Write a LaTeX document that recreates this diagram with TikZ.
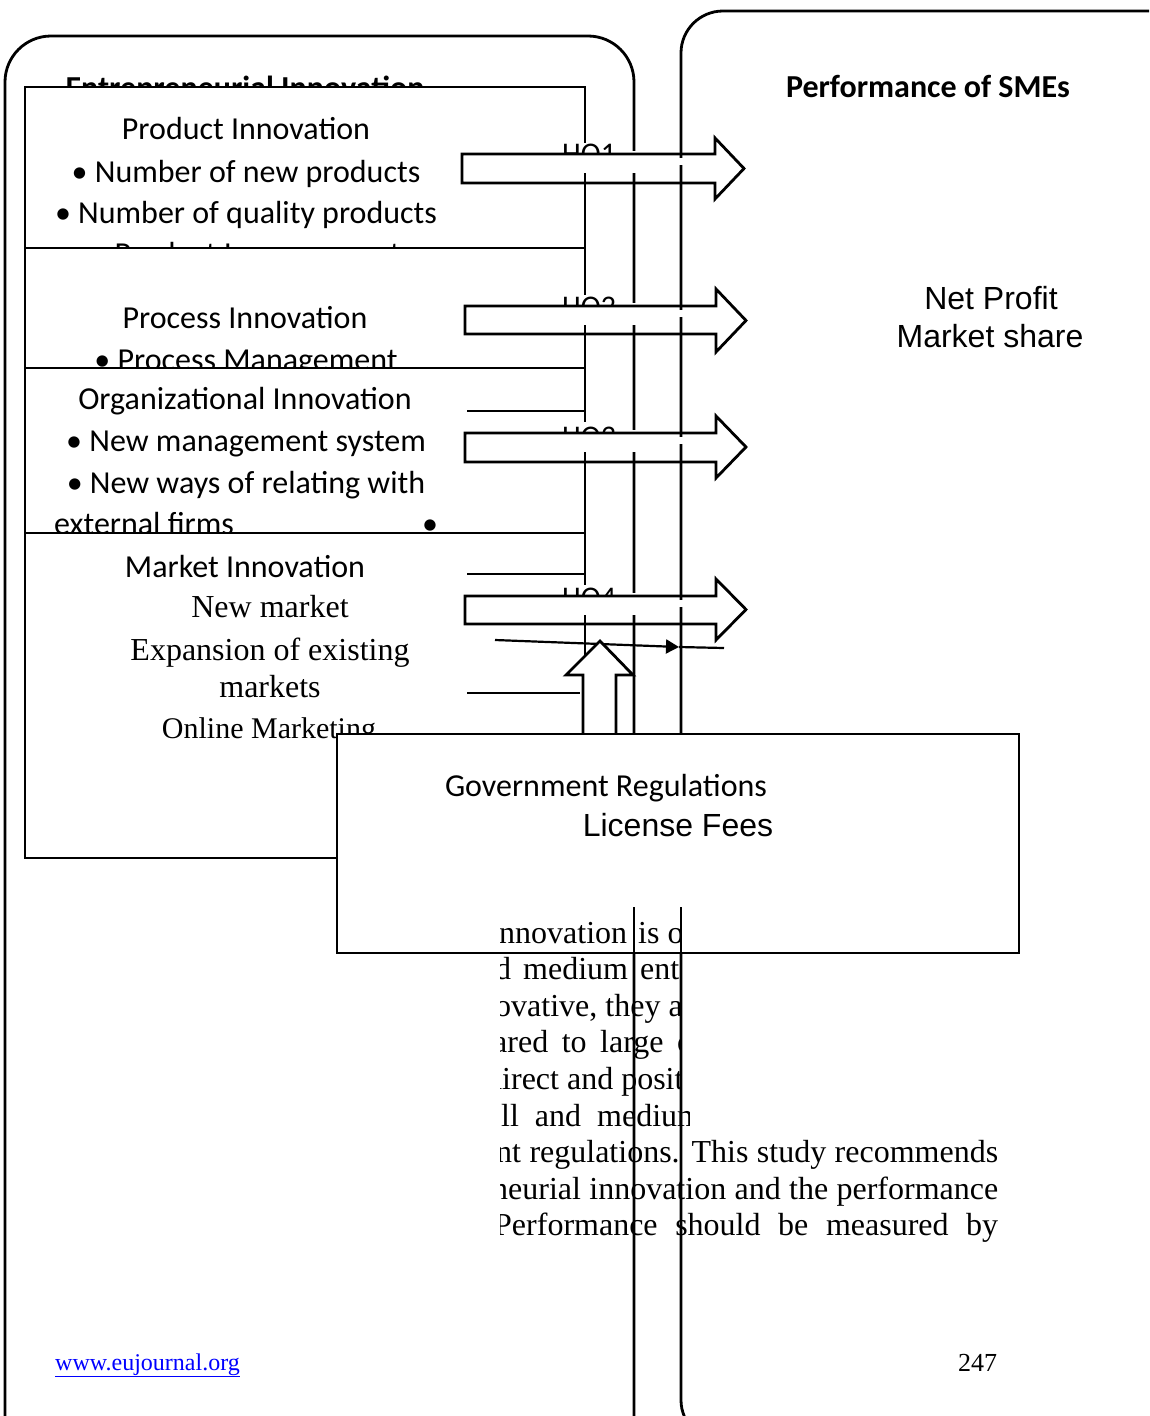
\documentclass[tikz,border=0pt]{standalone}
\usepackage{fontspec}
\setmainfont{Liberation Serif}
\newfontfamily\calibrifont{Carlito}
\newfontfamily\arialfont{Liberation Sans}
\usetikzlibrary{arrows.meta}
\newcommand\fsz[1]{\fontsize{#1pt}{#1pt}\selectfont}

\tikzset{
  frameline/.style={line width=2.8pt},
  thinline/.style={line width=2.5pt},
  box/.style={draw, line width=2.8pt, fill=white, inner sep=0pt, outer sep=0pt, anchor=north west},
  cal/.style={font=\calibrifont\fsz{32}, inner sep=0pt, anchor=base},
  calb/.style={font=\calibrifont\bfseries\fsz{32}, inner sep=0pt, anchor=base},
  hotext/.style={font=\calibrifont\fsz{30}, inner sep=0pt, anchor=base west},
  arial/.style={font=\arialfont\fsz{32}, inner sep=0pt, anchor=base},
  tnr/.style={font=\fsz{32}, inner sep=0pt, anchor=base},
  body/.style={font=\fsz{32}, inner sep=0pt, anchor=base west},
  foot/.style={font=\fsz{24}, inner sep=0pt, anchor=base west},
}

% hypothesis arrow with its half-hidden label
% #1 label, #2 body top, #3 body bottom, #4 head top, #5 head bottom,
% #6 left end, #7 head base, #8 tip, #9 label baseline
\newcommand\hypoarrow[9]{%
  \fill[white] (548,#2-11) rectangle (612,#2+19);
  \fill[white] (612,#2-3) rectangle (652,#2+19);
  \fill[white] (678,#2+4) rectangle (684,#2+11);
  \begin{scope}
    \clip (540,#2-40) rectangle (660,#2);
    \node[hotext] (lab#1) at (562,#9) {#1};
  \end{scope}
  \draw[frameline, line join=miter] (#6,#2) -- (#7,#2) -- (#7,#4) -- (#8,{(#4+#5)/2})
        -- (#7,#5) -- (#7,#3) -- (#6,#3) -- cycle;
}

\begin{document}
\begin{tikzpicture}[x=1pt,y=-1pt]
\clip (0,0) rectangle (1149,1416);

% the two rounded frames
\draw[frameline, rounded corners=46pt] (5,1500) -- (5,36) -- (634,36) -- (634,1500);
\draw[frameline, rounded corners=42pt] (681,11) -- (1193,11) -- (1193,1442) -- (681,1442) -- cycle;

% dependent variable
\node[calb] (perf) at (928,97) {Performance of SMEs};
\node[arial] (profit) at (991,309) {Net Profit};
\node[arial] (share) at (990,347) {Market share};

% independent variable title
\node[calb] (entre) at (245,98) {Entrepreneurial Innovation};

% product innovation
\node[box, minimum width=560pt, minimum height=161pt] (prod) at (25,87) {};
\node[cal] (prodT) at (246,139) {Product Innovation};
\node[cal] (prodA) at (246,182) {• Number of new products};
\node[cal] (prodB) at (246,223) {• Number of quality products};
\node[cal] (prodC) at (246,264) {• Product Improvement};

% process innovation
\node[box, minimum width=560pt, minimum height=120pt] (proc) at (25,248) {};
\node[cal] (procT) at (245,328) {Process Innovation};
\node[cal] (procA) at (246,370) {• Process Management};

% organizational innovation
\node[box, minimum width=560pt, minimum height=165pt] (org) at (25,368) {};
\node[cal] (orgT) at (245,409) {Organizational Innovation};
\node[cal] (orgA) at (246,451) {• New management system};
\node[cal] (orgB) at (246,493) {• New ways of relating with};
\node[cal, anchor=base west] (orgC) at (54,534) {external firms};
\node[cal] (orgD) at (430,534) {•};

% market innovation
\node[box, minimum width=560pt, minimum height=325pt] (mkt) at (25,533) {};
\node[cal] (mktT) at (245,577) {Market Innovation};
\node[tnr] (mktA) at (270,617) {New market};
\node[tnr] (mktB) at (270,660) {Expansion of existing};
\node[tnr] (mktC) at (270,697) {markets};
\node[tnr, font=\fsz{30}] (mktD) at (269,738) {Online Marketing};

% bracket ticks
\coordinate (t1a) at (467,411); \coordinate (t1b) at (585,411);
\coordinate (t2a) at (467,574); \coordinate (t2b) at (585,574);
\coordinate (t3a) at (467,693); \coordinate (t3b) at (580,693);
\draw[thinline] (t1a) -- (t1b);
\draw[thinline] (t2a) -- (t2b);
\draw[thinline] (t3a) -- (t3b);

% hypotheses
\hypoarrow{HO1}{154}{183}{138}{199}{462}{715}{744}{163}
\hypoarrow{HO2}{306}{334}{289}{352}{465}{716}{746}{316}
\hypoarrow{HO3}{433}{462}{416}{478}{465}{716}{746}{446}
\hypoarrow{HO4}{596}{624}{579}{640}{465}{716}{746}{607}

% moderating link
\coordinate (m0) at (495,640);
\coordinate (m1) at (679,647);
\coordinate (m2) at (724,648);
\draw[line width=2.2pt, -{Triangle[length=13pt,width=14pt]}] (m0) -- (m1);
\draw[line width=2.2pt] (m1) -- (m2);

% upward block arrow from the regulations box
\filldraw[frameline, fill=white, line join=miter] (583,737) -- (583,675) -- (566,675) -- (600,641)
      -- (633,675) -- (616,675) -- (616,737);

% moderating variable
\node[box, minimum width=682pt, minimum height=219pt] (gov) at (337,734) {};
\node[cal] (govT) at (606,796) {Government Regulations};
\node[arial] (govA) at (678,836) {License Fees};

% page text
\begin{scope}
  \clip (500,900) rectangle (681,1101);
  \node[body] (r1) at (499,943) {nnovation\hspace{11pt}is\hspace{8pt}one};
  \node[body] (r2) at (495,979.6) {d\hspace{12pt}medium\hspace{12pt}enterprises};
  \node[body] (r3) at (495,1016.2) {ovative, they are};
  \node[body] (r4) at (493,1052.8) {ared\hspace{13.5pt}to\hspace{13.5pt}large\hspace{13.5pt}companies};
  \node[body] (r5) at (486,1089.4) {direct and positive};
\end{scope}
\begin{scope}
  \clip (500,1101) rectangle (689,1136);
  \node[body] (r6) at (501,1126) {ll\hspace{16pt}and\hspace{16pt}medium};
\end{scope}
\begin{scope}
  \clip (500,1136) rectangle (1149,1260);
  \node[body] (r7) at (496,1162.6) {\makebox[502pt][s]{nt regulations. This study recommends}};
  \node[body] (r8) at (492,1199.2) {\makebox[506pt][s]{neurial innovation and the performance}};
  \node[body] (r9) at (494,1235.8) {\makebox[504pt][s]{Performance should be measured by}};
\end{scope}

% frame edges running down over the page text
\coordinate (e1a) at (634,907); \coordinate (e1b) at (634,1420);
\coordinate (e2a) at (681,907); \coordinate (e2b) at (681,1400);
\draw[frameline] (e1a) -- (e1b);
\draw[frameline] (e2a) -- (e2b);

% footer
\node[foot, text=blue] (url) at (55,1370) {\underline{www.eujournal.org}};
\node[foot, font=\fsz{26}] (page) at (958,1371) {247};
\end{tikzpicture}
\end{document}
